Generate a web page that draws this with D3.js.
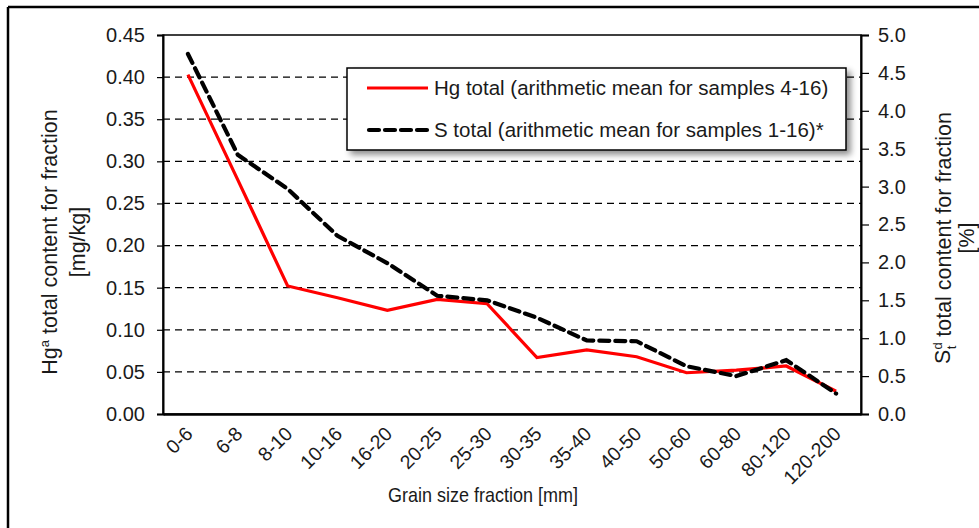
<!DOCTYPE html>
<html><head><meta charset="utf-8">
<script src="https://cdn.jsdelivr.net/npm/d3@7"></script>
<style>
html,body{margin:0;padding:0;background:#fff;}
svg{display:block;font-family:"Liberation Sans",Arial,sans-serif;}
</style></head>
<body><svg id="c" width="979" height="528"></svg>
<script>
const categories = ["0-6","6-8","8-10","10-16","16-20","20-25","25-30","30-35","35-40","40-50","50-60","60-80","80-120","120-200"];
const hgValues = [0.403,0.278,0.152,0.138,0.123,0.136,0.131,0.067,0.076,0.068,0.049,0.052,0.057,0.027];
const sValues  = [4.75,3.42,2.97,2.35,1.99,1.56,1.50,1.27,0.97,0.96,0.63,0.50,0.71,0.27];
const leftTicks = [0,0.05,0.10,0.15,0.20,0.25,0.30,0.35,0.40,0.45];
const rightTicks = [0,0.5,1.0,1.5,2.0,2.5,3.0,3.5,4.0,4.5,5.0];
const legendLabels = ["Hg total (arithmetic mean for samples 4-16)","S total (arithmetic mean for samples 1-16)*"];

const svg = d3.select("#c");
const L = 163, R = 861, T = 35, B = 414;
const fs = 20;

// outer border (top + left)
svg.append("path").attr("d","M8,7H979M8,7V528").attr("fill","none").attr("stroke","#000").attr("stroke-width",2.5);

const x = d3.scaleBand().domain(categories).range([L,R]);
const yL = d3.scaleLinear().domain([0,0.45]).range([B,T]);
const yR = d3.scaleLinear().domain([0,5]).range([B,T]);

// gridlines
svg.append("g").selectAll("line").data(leftTicks.filter(d=>d>0&&d<0.45)).join("line")
  .attr("x1",L).attr("x2",R).attr("y1",d=>yL(d)).attr("y2",d=>yL(d))
  .attr("stroke","#000").attr("stroke-width",1.2).attr("stroke-dasharray","7,5");

// plot frame
svg.append("rect").attr("x",L).attr("y",T).attr("width",R-L).attr("height",B-T)
  .attr("fill","none").attr("stroke","#000").attr("stroke-width",1.5);

// left axis
const gl = svg.append("g").attr("transform",`translate(${L},0)`)
  .call(d3.axisLeft(yL).tickValues(leftTicks).tickFormat(d3.format(".2f")).tickSize(6).tickPadding(12));
// right axis
const gr = svg.append("g").attr("transform",`translate(${R},0)`)
  .call(d3.axisRight(yR).tickValues(rightTicks).tickFormat(d3.format(".1f")).tickSize(8).tickPadding(9));
// bottom axis
const gb = svg.append("g").attr("transform",`translate(0,${B})`)
  .call(d3.axisBottom(x).tickSize(0).tickPadding(0));
[gl,gr,gb].forEach(g=>{
  g.select(".domain").attr("stroke","#000").attr("stroke-width",2);
  g.selectAll(".tick line").attr("stroke","#000").attr("stroke-width",1.2);
  g.selectAll("text").attr("font-family","Liberation Sans, Arial, sans-serif").attr("font-size",fs).attr("fill","#1a1a1a");
});
gb.select(".domain").attr("stroke-width",2.5);
gb.selectAll(".tick text")
  .attr("font-size",19.5)
  .attr("text-anchor","end").attr("dy",0).attr("y",0)
  .attr("transform","translate(6,21) rotate(-45)");

// lines
const lineHg = d3.line().x((d,i)=>x(categories[i])+x.bandwidth()/2).y(d=>yL(d));
const lineS = d3.line().x((d,i)=>x(categories[i])+x.bandwidth()/2).y(d=>yR(d));
svg.append("path").datum(hgValues).attr("d",lineHg).attr("fill","none")
  .attr("stroke","#ff0000").attr("stroke-width",3.2).attr("stroke-linejoin","miter");
svg.append("path").datum(sValues).attr("d",lineS).attr("fill","none")
  .attr("stroke","#000").attr("stroke-width",4.2).attr("stroke-dasharray","10,6").attr("stroke-linecap","round");

// legend with shadow
const defs = svg.append("defs");
const f = defs.append("filter").attr("id","sh").attr("x","-10%").attr("y","-20%").attr("width","130%").attr("height","160%");
f.append("feGaussianBlur").attr("in","SourceAlpha").attr("stdDeviation",3);
f.append("feOffset").attr("dx",4).attr("dy",4).attr("result","b");
f.append("feComponentTransfer").append("feFuncA").attr("type","linear").attr("slope",0.45);
const fm = f.append("feMerge"); fm.append("feMergeNode"); fm.append("feMergeNode").attr("in","SourceGraphic");
const lg = svg.append("g");
lg.append("rect").attr("x",347).attr("y",68).attr("width",499).attr("height",82)
  .attr("fill","#fff").attr("stroke","#000").attr("stroke-width",1.5).attr("filter","url(#sh)");
const ly = [88,130];
lg.append("line").attr("x1",367).attr("x2",428).attr("y1",ly[0]).attr("y2",ly[0]).attr("stroke","#ff0000").attr("stroke-width",3.2);
lg.append("line").attr("x1",369).attr("x2",428).attr("y1",ly[1]).attr("y2",ly[1]).attr("stroke","#000").attr("stroke-width",4.2).attr("stroke-dasharray","10,6").attr("stroke-linecap","round");
lg.selectAll("text").data(legendLabels).join("text")
  .attr("x",434).attr("y",(d,i)=>ly[i]).attr("dy","0.35em").attr("font-size",20.5).attr("fill","#1a1a1a").text(d=>d);

// axis titles
const tfs = 21.5;
const lt = svg.append("text").attr("transform","translate(49,242) rotate(-90)").attr("text-anchor","middle").attr("dy","0.35em").attr("font-size",tfs).attr("fill","#1a1a1a");
lt.append("tspan").text("Hg");
lt.append("tspan").attr("font-size",13).attr("dy","-0.6em").text("a");
lt.append("tspan").attr("dy","0.4em").text(" total content for fraction");
svg.append("text").attr("transform","translate(77,242) rotate(-90)").attr("text-anchor","middle").attr("dy","0.35em").attr("font-size",tfs).attr("fill","#1a1a1a").text("[mg/kg]");

const rt = svg.append("text").attr("transform","translate(942,238) rotate(-90)").attr("text-anchor","middle").attr("dy","0.35em").attr("font-size",tfs).attr("fill","#1a1a1a");
rt.append("tspan").text("S");
rt.append("tspan").attr("font-size",13).attr("dy","-0.6em").text("d");
rt.append("tspan").attr("font-size",13).attr("dx","-7").attr("dy","1.1em").text("t");
rt.append("tspan").attr("dx","3").attr("dy","-0.25em").text(" total content for fraction");
svg.append("text").attr("transform","translate(966,238) rotate(-90)").attr("text-anchor","middle").attr("dy","0.35em").attr("font-size",tfs).attr("fill","#1a1a1a").text("[%]");

svg.append("text").attr("x",388).attr("y",495).attr("dy","0.35em").attr("font-size",21)
  .attr("textLength",190).attr("lengthAdjust","spacingAndGlyphs").attr("fill","#1a1a1a").text("Grain size fraction [mm]");
</script></body></html>
